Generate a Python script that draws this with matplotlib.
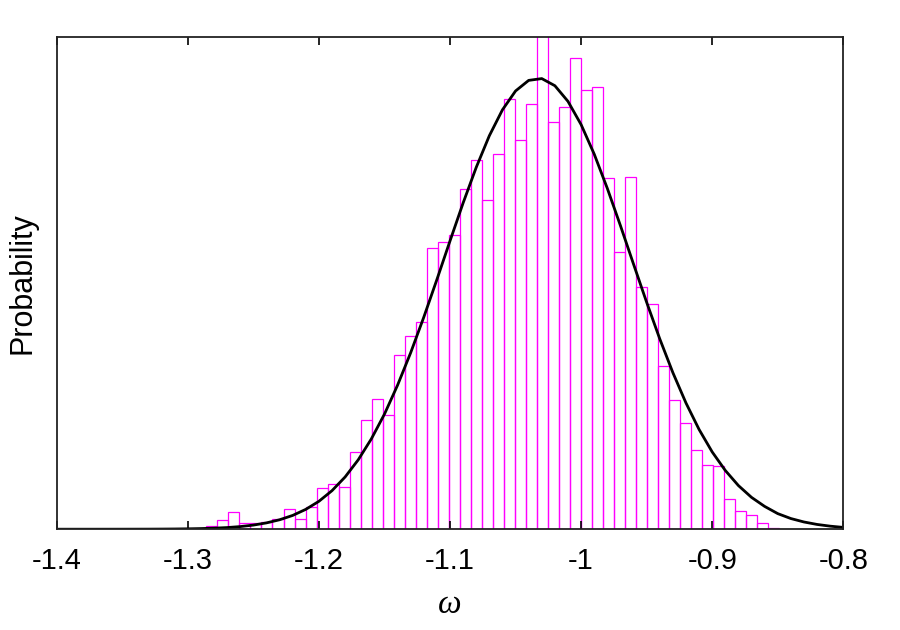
# Histogram of omega with fitted curve

import numpy as np
import matplotlib
matplotlib.use("Agg")
import matplotlib.pyplot as plt

plt.rcParams['font.family'] = ['Liberation Sans', 'DejaVu Sans']
plt.rcParams['axes.unicode_minus'] = False

# histogram bins (omega)
bin_start = -1.2858
bin_width = 0.0084
hist_values = [0.04, 0.11, 0.21, 0.07, 0.08, 0.09, 0.13, 0.25, 0.13, 0.27,
               0.50, 0.55, 0.51, 0.94, 1.33, 1.59, 1.39, 2.13, 2.36, 2.53,
               3.43, 3.50, 3.59, 4.15, 4.50, 4.01, 4.57, 5.25, 4.74, 5.18,
               6.20, 4.97, 5.15, 5.74, 5.36, 5.39, 4.28, 3.38, 4.30, 2.95,
               2.75, 1.99, 1.57, 1.29, 0.96, 0.78, 0.77, 0.37, 0.22, 0.17,
               0.08, 0.02]

# fitted curve, read at 0.01 steps
curve_x = [-1.40, -1.39, -1.38, -1.37, -1.36, -1.35, -1.34, -1.33, -1.32, -1.31,
           -1.30, -1.29, -1.28, -1.27, -1.26, -1.25, -1.24, -1.23, -1.22, -1.21,
           -1.20, -1.19, -1.18, -1.17, -1.16, -1.15, -1.14, -1.13, -1.12, -1.11,
           -1.10, -1.09, -1.08, -1.07, -1.06, -1.05, -1.04, -1.03, -1.02, -1.01,
           -1.00, -0.99, -0.98, -0.97, -0.96, -0.95, -0.94, -0.93, -0.92, -0.91,
           -0.90, -0.89, -0.88, -0.87, -0.86, -0.85, -0.84, -0.83, -0.82, -0.81,
           -0.80]
curve_y = [0.000, 0.000, 0.000, 0.000, 0.0001, 0.0002, 0.0005, 0.0008, 0.0015, 0.0026,
           0.0045, 0.0076, 0.0125, 0.020, 0.032, 0.050, 0.077, 0.115, 0.168, 0.242,
           0.340, 0.470, 0.637, 0.846, 1.101, 1.403, 1.756, 2.152, 2.585, 3.044,
           3.515, 3.978, 4.412, 4.798, 5.114, 5.344, 5.473, 5.495, 5.408, 5.217,
           4.934, 4.574, 4.156, 3.702, 3.232, 2.767, 2.321, 1.909, 1.539, 1.216,
           0.942, 0.716, 0.532, 0.388, 0.278, 0.190, 0.130, 0.088, 0.058, 0.037,
           0.022]

x_ticks = [-1.4, -1.3, -1.2, -1.1, -1.0, -0.9, -0.8]
x_ticklabels = ['-1.4', '-1.3', '-1.2', '-1.1', '-1', '-0.9', '-0.8']

fig = plt.figure(figsize=(9, 6.3), dpi=100)
ax = fig.add_axes([0.063, 0.160, 0.874, 0.781])

edges = bin_start + bin_width * np.arange(len(hist_values))
ax.bar(edges, hist_values, width=bin_width, align='edge', fill=False,
       edgecolor='#ff00ff', linewidth=0.9)
ax.plot(curve_x, curve_y, color='black', linewidth=2.0, solid_joinstyle='round')

ax.set_xlim(-1.4, -0.8)
ax.set_ylim(0, 6.0)
ax.set_xticks(x_ticks)
ax.set_xticklabels(x_ticklabels)
ax.set_yticks([])
ax.tick_params(axis='x', direction='in', length=6, width=1.2, top=True,
               labelsize=21, pad=13)
for s in ax.spines.values():
    s.set_linewidth(1.3)
    s.set_color('#222222')

ax.set_ylabel('Probability', fontsize=22, labelpad=14)
ax.set_xlabel('ω', fontsize=24, family=['Liberation Serif', 'DejaVu Serif'],
              style='italic', labelpad=10)

fig.savefig('out.png', dpi=100)
